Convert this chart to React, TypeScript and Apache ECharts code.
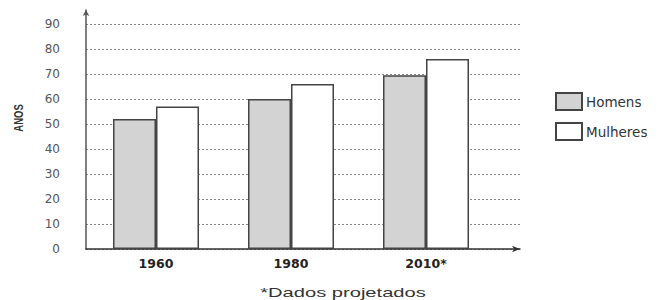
import React, { useEffect, useRef } from "react";
import * as echarts from "echarts";

const categories = ["1960", "1980", "2010*"];
const homens = [52, 60, 69.5];
const mulheres = [57, 66, 76];
const yTicks = [0, 90, 10]; // min, max, interval
const seriesNames = ["Homens", "Mulheres"];
const axisTitle = "ANOS";
const footnote = "*Dados projetados";

export default function App() {
  const ref = useRef<HTMLDivElement>(null);
  useEffect(() => {
    const chart = echarts.init(ref.current!, null, { renderer: "svg" });
    const font = "Liberation Sans, Arial, sans-serif";
    const wide = "DejaVu Sans, sans-serif";
    chart.setOption({
      animation: false,
      backgroundColor: "#ffffff",
      grid: [
        { left: 86, top: 10, width: 434, height: 239 },
        { left: 86, top: 24, width: 434, height: 225 },
        { left: 88.5, top: 24, width: 405, height: 225 },
      ],
      xAxis: [
        {
          gridIndex: 0, type: "value", min: 0, max: 1,
          axisLine: { show: true, lineStyle: { color: "#333", width: 1.5 }, symbol: ["none", "arrow"], symbolSize: [5, 8] },
          axisTick: { show: false }, axisLabel: { show: false }, splitLine: { show: false },
        },
        { gridIndex: 1, type: "value", min: 0, max: 1, show: false },
        {
          gridIndex: 2, type: "category", data: categories,
          axisLine: { show: false }, axisTick: { show: false },
          axisLabel: { color: "#222", fontFamily: wide, fontWeight: "bold", fontSize: 12.5, margin: 8 },
        },
      ],
      yAxis: [
        {
          gridIndex: 0, type: "value", min: 0, max: 95.6,
          axisLine: { show: true, lineStyle: { color: "#555", width: 1.5 }, symbol: ["none", "arrow"], symbolSize: [5, 6] },
          axisTick: { show: false }, axisLabel: { show: false }, splitLine: { show: false },
        },
        {
          gridIndex: 1, type: "value", min: yTicks[0], max: yTicks[1], interval: yTicks[2],
          axisLine: { show: false }, axisTick: { show: false },
          axisLabel: { color: "#555", fontFamily: wide, fontSize: 12, margin: 26 },
          splitLine: { show: true, lineStyle: { color: "#888", type: [2, 2], width: 1 } },
        },
        { gridIndex: 2, type: "value", min: yTicks[0], max: yTicks[1], show: false },
      ],
      legend: {
        orient: "vertical", left: 555, top: 92, padding: 0, itemWidth: 26, itemHeight: 17, itemGap: 11,
        icon: "rect",
        data: seriesNames,
        textStyle: { color: "#333", fontFamily: wide, fontSize: 13.5, padding: [0, 0, 0, -1] },
      },
      series: [
        {
          name: seriesNames[0], type: "bar", xAxisIndex: 2, yAxisIndex: 2, data: homens,
          barWidth: 43, barGap: "0%",
          itemStyle: { color: "#d3d3d3", borderColor: "#444", borderWidth: 1.5 },
        },
        {
          name: seriesNames[1], type: "bar", xAxisIndex: 2, yAxisIndex: 2, data: mulheres,
          barWidth: 43, barGap: "0%",
          itemStyle: { color: "#ffffff", borderColor: "#444", borderWidth: 1.5 },
        },
      ],
      graphic: [
        {
          type: "text", x: 19, y: 118, rotation: Math.PI / 2, scaleY: 1.3,
          style: { text: axisTitle, fill: "#333", font: "bold 9.5px " + font, align: "center", verticalAlign: "middle" },
        },
        {
          type: "text", x: 343, y: 293, scaleX: 1.55,
          style: { text: footnote, fill: "#333", font: "13px " + font, align: "center", verticalAlign: "middle" },
        },
      ],
    });
    return () => chart.dispose();
  }, []);
  return <div ref={ref} style={{ position: "fixed", left: 0, top: 0, width: 663, height: 300 }} />;
}
